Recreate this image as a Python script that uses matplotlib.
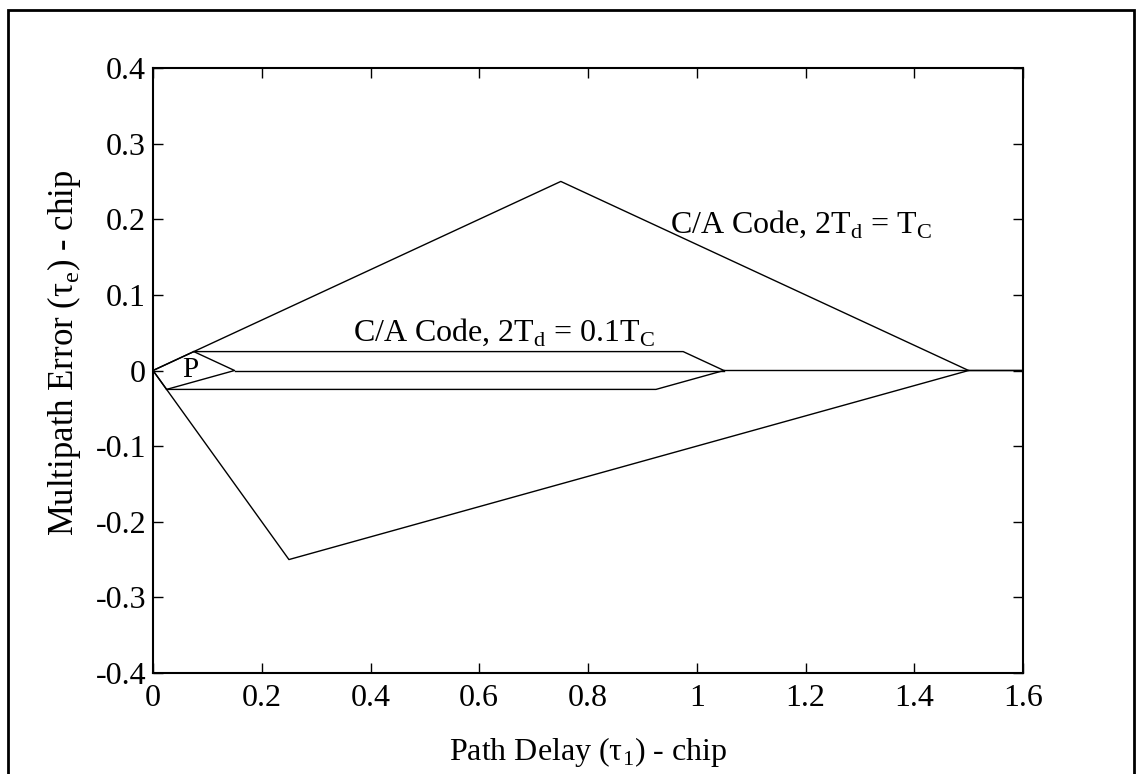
import numpy as np
import matplotlib
matplotlib.use("Agg")
import matplotlib.pyplot as plt
from matplotlib.patches import Rectangle

plt.rcParams["font.family"] = ["Liberation Serif", "DejaVu Serif"]
plt.rcParams["mathtext.fontset"] = "custom"
plt.rcParams["mathtext.rm"] = "Liberation Serif"

# 宽相关器 (2Td = Tc) 多径误差包络
wide_up_x = [0.0, 0.75, 1.5, 1.6]
wide_up_y = [0.0, 0.25, 0.0, 0.0]
wide_lo_x = [0.0, 0.25, 1.5]
wide_lo_y = [0.0, -0.25, 0.0]

# 窄相关器 (2Td = 0.1Tc) 多径误差包络
narrow_up_x = [0.0, 0.075, 0.975, 1.05, 1.6]
narrow_up_y = [0.0, 0.025, 0.025, 0.0, 0.0]
narrow_lo_x = [0.0, 0.025, 0.925, 1.05]
narrow_lo_y = [0.0, -0.025, -0.025, 0.0]
# P 区域内侧折线
inner_x = [0.075, 0.15, 0.025]
inner_y = [0.025, 0.0, -0.025]
mid_x = [0.15, 1.05]
mid_y = [0.0, 0.0]

fig = plt.figure(figsize=(11.36, 7.74), dpi=100)
ax = fig.add_axes([153 / 1136, 1 - 673 / 774, 870 / 1136, 605 / 774])

kw = dict(color="black", lw=1.0)
ax.plot(wide_up_x, wide_up_y, **kw)
ax.plot(wide_lo_x, wide_lo_y, **kw)
ax.plot(narrow_up_x, narrow_up_y, **kw)
ax.plot(narrow_lo_x, narrow_lo_y, **kw)
ax.plot(inner_x, inner_y, **kw)
ax.plot(mid_x, mid_y, **kw)

ax.set_xlim(0, 1.6)
ax.set_ylim(-0.4, 0.4)
ax.set_xticks(np.arange(0, 1.61, 0.2))
ax.set_yticks(np.arange(-0.4, 0.41, 0.1))
ax.set_xticklabels(["0", "0.2", "0.4", "0.6", "0.8", "1", "1.2", "1.4", "1.6"])
ax.set_yticklabels(["-0.4", "-0.3", "-0.2", "-0.1", "0", "0.1", "0.2", "0.3", "0.4"])
ax.tick_params(direction="in", length=7, width=1, top=True, right=True,
               labelsize=23)
ax.tick_params(axis="x", pad=8)
ax.tick_params(axis="y", pad=5)
for s in ax.spines.values():
    s.set_linewidth(1.5)

ax.set_xlabel("Path Delay (τ$_1$) - chip", fontsize=23, labelpad=16)
ax.set_ylabel("Multipath Error (τ$_{\\mathrm{e}}$) - chip", fontsize=25)
ax.yaxis.set_label_coords(-0.08, 0.53)

ax.text(0.951, 0.182, "C/A Code, 2T$_\\mathrm{d}$ = T$_\\mathrm{C}$",
        fontsize=23, va="baseline")
ax.text(0.368, 0.040, "C/A Code, 2T$_\\mathrm{d}$ = 0.1T$_\\mathrm{C}$",
        fontsize=23, va="baseline")
ax.text(0.068, 0.001, "P", fontsize=21, ha="center", va="center")

# 外框
fig.patches.append(Rectangle((8 / 1136, -0.05), 1126 / 1136, 1.05 - 10 / 774,
                             transform=fig.transFigure, fill=False,
                             edgecolor="black", lw=2))

fig.savefig("out.png", dpi=100)
